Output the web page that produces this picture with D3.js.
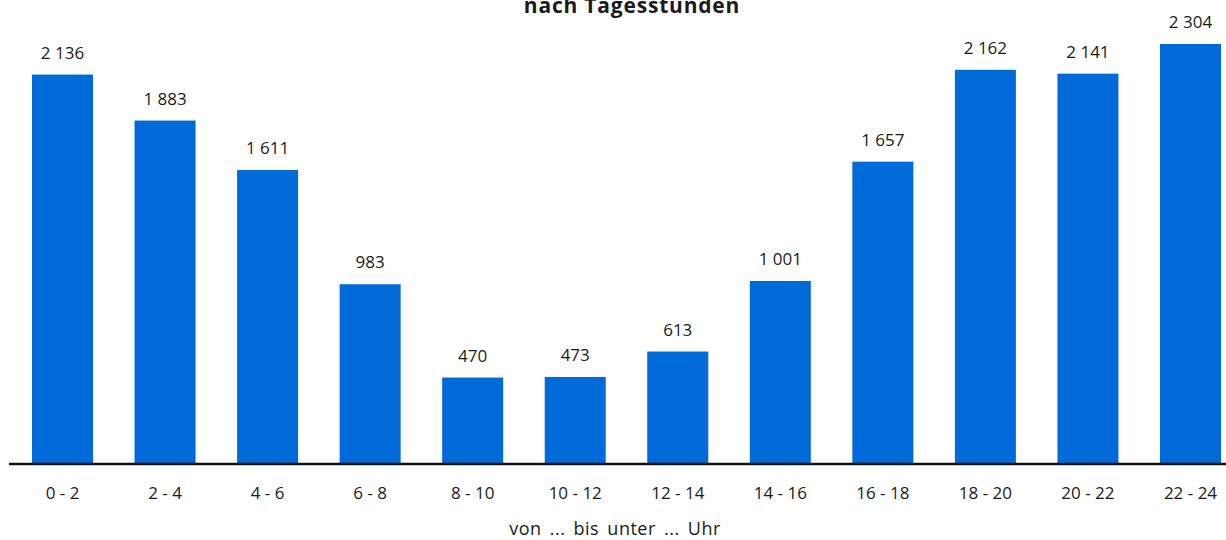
<!DOCTYPE html>
<html lang="de">
<head>
<meta charset="utf-8">
<title>nach Tagesstunden</title>
<script src="https://d3js.org/d3.v7.min.js"></script>
<style>
    body { margin: 0; background: #fff; }
    svg text { font-family: "Open Sans", sans-serif; fill: #1a1a1a; }
</style>
</head>
<body>
<div id="chart"></div>
<script>
// Werte nach Tagesstunden
var categories = ["0 - 2", "2 - 4", "4 - 6", "6 - 8", "8 - 10", "10 - 12",
                  "12 - 14", "14 - 16", "16 - 18", "18 - 20", "20 - 22", "22 - 24"];
var values = [2136, 1883, 1611, 983, 470, 473, 613, 1001, 1657, 2162, 2141, 2304];
var title = "nach Tagesstunden";
var axisTitle = "von ... bis unter ... Uhr";

var width = 1226, height = 540;
var baseline = 463;

var fmt = function(v) {
    return d3.format(",")(v).replace(/,/g, " ");
};

var svg = d3.select("#chart").append("svg")
    .attr("width", width)
    .attr("height", height);

var x = d3.scaleBand()
    .domain(categories)
    .range([11.5, 1241.5])
    .paddingInner(0.405)
    .paddingOuter(0.2);

var y = d3.scaleLinear()
    .domain([0, 2304])
    .range([baseline, 44]);

svg.append("text")
    .attr("x", 632)
    .attr("y", 13)
    .attr("text-anchor", "middle")
    .style("font-size", "21px")
    .style("font-weight", "bold")
    .style("letter-spacing", "0.8px")
    .text(title);

svg.selectAll(".bar")
    .data(values)
    .enter()
    .append("rect")
    .attr("class", "bar")
    .attr("x", function(d, i) { return x(categories[i]); })
    .attr("y", function(d) { return y(d); })
    .attr("width", x.bandwidth())
    .attr("height", function(d) { return baseline - y(d); })
    .style("fill", "#006ad8");

svg.selectAll(".value")
    .data(values)
    .enter()
    .append("text")
    .attr("class", "value")
    .attr("x", function(d, i) { return x(categories[i]) + x.bandwidth() / 2; })
    .attr("y", function(d) { return y(d) - 16; })
    .attr("text-anchor", "middle")
    .style("font-size", "17px")
    .text(function(d) { return fmt(d); });

// x-Achse
var axis = svg.append("g")
    .attr("transform", "translate(0," + (baseline + 1) + ")")
    .call(d3.axisBottom(x).tickSize(0).tickPadding(23));

axis.select(".domain")
    .attr("d", "M9,0H" + width)
    .style("stroke", "#111")
    .style("stroke-width", 2.5);

axis.selectAll(".tick text")
    .style("font-family", "\"Open Sans\", sans-serif")
    .style("font-size", "17px")
    .style("fill", "#1a1a1a");

svg.append("text")
    .attr("x", 615)
    .attr("y", 535)
    .attr("text-anchor", "middle")
    .style("font-size", "18px")
    .style("word-spacing", "3px")
    .style("letter-spacing", "0.5px")
    .text(axisTitle);
</script>
</body>
</html>
